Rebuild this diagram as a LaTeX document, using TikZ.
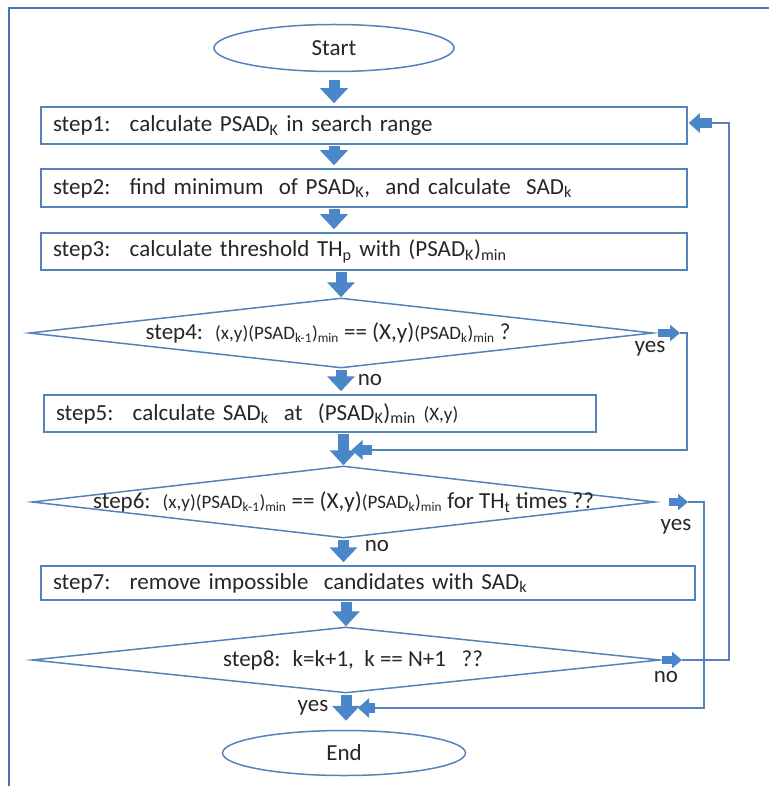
\documentclass[tikz,border=0pt]{standalone}
\usepackage{fontspec}
\setmainfont{Carlito}
\usetikzlibrary{arrows.meta,shapes.geometric}
\definecolor{flowblue}{RGB}{74,134,200}
\definecolor{lineblue}{RGB}{84,130,186}
\definecolor{framecol}{RGB}{70,118,178}
\newcommand{\smalltxt}[1]{{\fontsize{19}{22}\selectfont #1}}
\tikzstyle{stepbox} = [draw=lineblue, line width=1.5pt, rectangle, minimum height=37pt, inner xsep=12pt, align=left, font=\fontsize{23}{27}\selectfont, text=black!85]
\tikzstyle{decision} = [draw=lineblue, line width=1.5pt, diamond, inner sep=0pt]
\tikzstyle{terminal} = [draw=lineblue, line width=1.5pt, ellipse, font=\fontsize{23}{27}\selectfont, text=black!85]
\tikzstyle{fat} = [draw=flowblue, line width=11pt, -{Triangle[width=27pt,length=15pt]}, shorten <=1pt, shorten >=3pt]
\tikzstyle{sidearrow} = [draw=flowblue, line width=8pt, -{Triangle[width=16pt,length=10pt]}]
\tikzstyle{mergearrow} = [draw=flowblue, line width=10pt, -{Triangle[width=19pt,length=11pt]}]
\tikzstyle{loopline} = [draw=lineblue, line width=1.5pt]
\tikzstyle{answer} = [font=\fontsize{23}{27}\selectfont, text=black!85, inner sep=0pt]

\begin{document}
\begin{tikzpicture}[x=1pt, y=-1pt]
        \tikzset{every label/.style={font=\fontsize{23}{27}\selectfont, text=black!85, inner sep=0pt}}
        \useasboundingbox (0,0) rectangle (769,786);
        \draw[framecol, line width=2.5pt] (9,786) -- (9,8) -- (769,8);

        \node[terminal, minimum width=240pt, minimum height=47pt] (start) at (334,48) {Start};
        \node[stepbox, text width=622pt] (step1) at (364,125.5) {step1:~ calculate PSAD\textsubscript{K} in search range};
        \node[stepbox, text width=622pt, minimum height=38pt] (step2) at (364,188) {step2:~ find minimum~ of PSAD\textsubscript{K},~ and calculate~ SAD\textsubscript{k}};
        \node[stepbox, text width=622pt] (step3) at (364,251.5) {step3:~ calculate threshold TH\textsubscript{p} with (PSAD\textsubscript{K})\textsubscript{min}};

        \node[decision, minimum width=624pt, minimum height=70pt,
            label={[xshift=-13pt]center:step4:~ \smalltxt{(x,y)(PSAD\textsubscript{k-1})\textsubscript{min}} == (X,y)\smalltxt{(PSAD\textsubscript{k})\textsubscript{min}} ?}] (step4) at (341,333) {};
        \node[stepbox, text width=528pt] (step5) at (320,413.5) {step5:~ calculate SAD\textsubscript{k}~ at~ (PSAD\textsubscript{K})\textsubscript{min} \smalltxt{(X,y)}};

        \node[decision, minimum width=623pt, minimum height=72pt,
            label={center:step6:~ \smalltxt{(x,y)(PSAD\textsubscript{k-1})\textsubscript{min}} == (X,y)\smalltxt{(PSAD\textsubscript{k})\textsubscript{min}} for TH\textsubscript{t} times ??}] (step6) at (343.5,502) {};
        \node[stepbox, text width=630pt, minimum height=34pt] (step7) at (368,583) {step7:~ remove impossible~ candidates with SAD\textsubscript{k}};

        \node[decision, minimum width=628pt, minimum height=66pt,
            label={[xshift=7pt]center:step8:~ k=k+1,~ k == N+1~~ ??}] (step8) at (346,660) {};
        \node[terminal, minimum width=243pt, minimum height=45pt] (end) at (344,753) {End};

        \draw[fat, shorten <=8pt] (start.south) -- (start.south |- step1.north);
        \draw[fat] (step1.south -| start.south) -- (step2.north -| start.south);
        \draw[fat] (step2.south -| start.south) -- (step3.north -| start.south);
        \draw[fat, shorten >=0pt] (step3.south -| step4.north) -- (step4.north);
        \draw[fat] (step4.south) -- (step4.south |- step5.north);
        \draw[fat, shorten >=0pt] (step5.south -| step6.north) -- (step6.north);
        \draw[fat] (step6.south) -- (step6.south |- step7.north);
        \draw[fat, shorten >=0pt] (step7.south -| step8.north) -- (step8.north);
        \draw[fat, shorten >=9pt] (step8.south) -- (step8.south |- end.north);

        \coordinate (out4) at (680,333);
        \coordinate (corner4) at (687,450);
        \coordinate (in5) at (372,450);
        \draw[sidearrow, shorten <=4pt] (step4.east) -- (out4);
        \draw[loopline] (out4) -| (corner4) -- (in5);
        \draw[mergearrow, shorten >=8pt] (in5) -- (in5 -| step6.north);

        \coordinate (out6) at (688,502);
        \coordinate (corner6) at (704,708);
        \coordinate (in8) at (375,708);
        \draw[sidearrow, shorten <=13pt] (step6.east) -- (out6);
        \draw[loopline] (out6) -| (corner6) -- (in8);
        \draw[mergearrow, shorten >=12pt] (in8) -- (in8 -| step8.south);

        \coordinate (out8) at (682,660);
        \coordinate (corner8) at (729,123);
        \coordinate (in1) at (712,123);
        \draw[sidearrow, shorten <=1pt] (step8.east) -- (out8);
        \draw[loopline] (out8) -| (corner8) -- (in1);
        \draw[mergearrow, shorten >=1pt] (in1) -- (in1 -| step1.east);

        \node[answer] (yes4) at (650,349) {yes};
        \node[answer] (no4) at (370,380) {no};
        \node[answer] (yes6) at (676,527) {yes};
        \node[answer] (no6) at (377,546) {no};
        \node[answer] (no8) at (666,677) {no};
        \node[answer] (yes8) at (313,708) {yes};
\end{tikzpicture}
\end{document}
